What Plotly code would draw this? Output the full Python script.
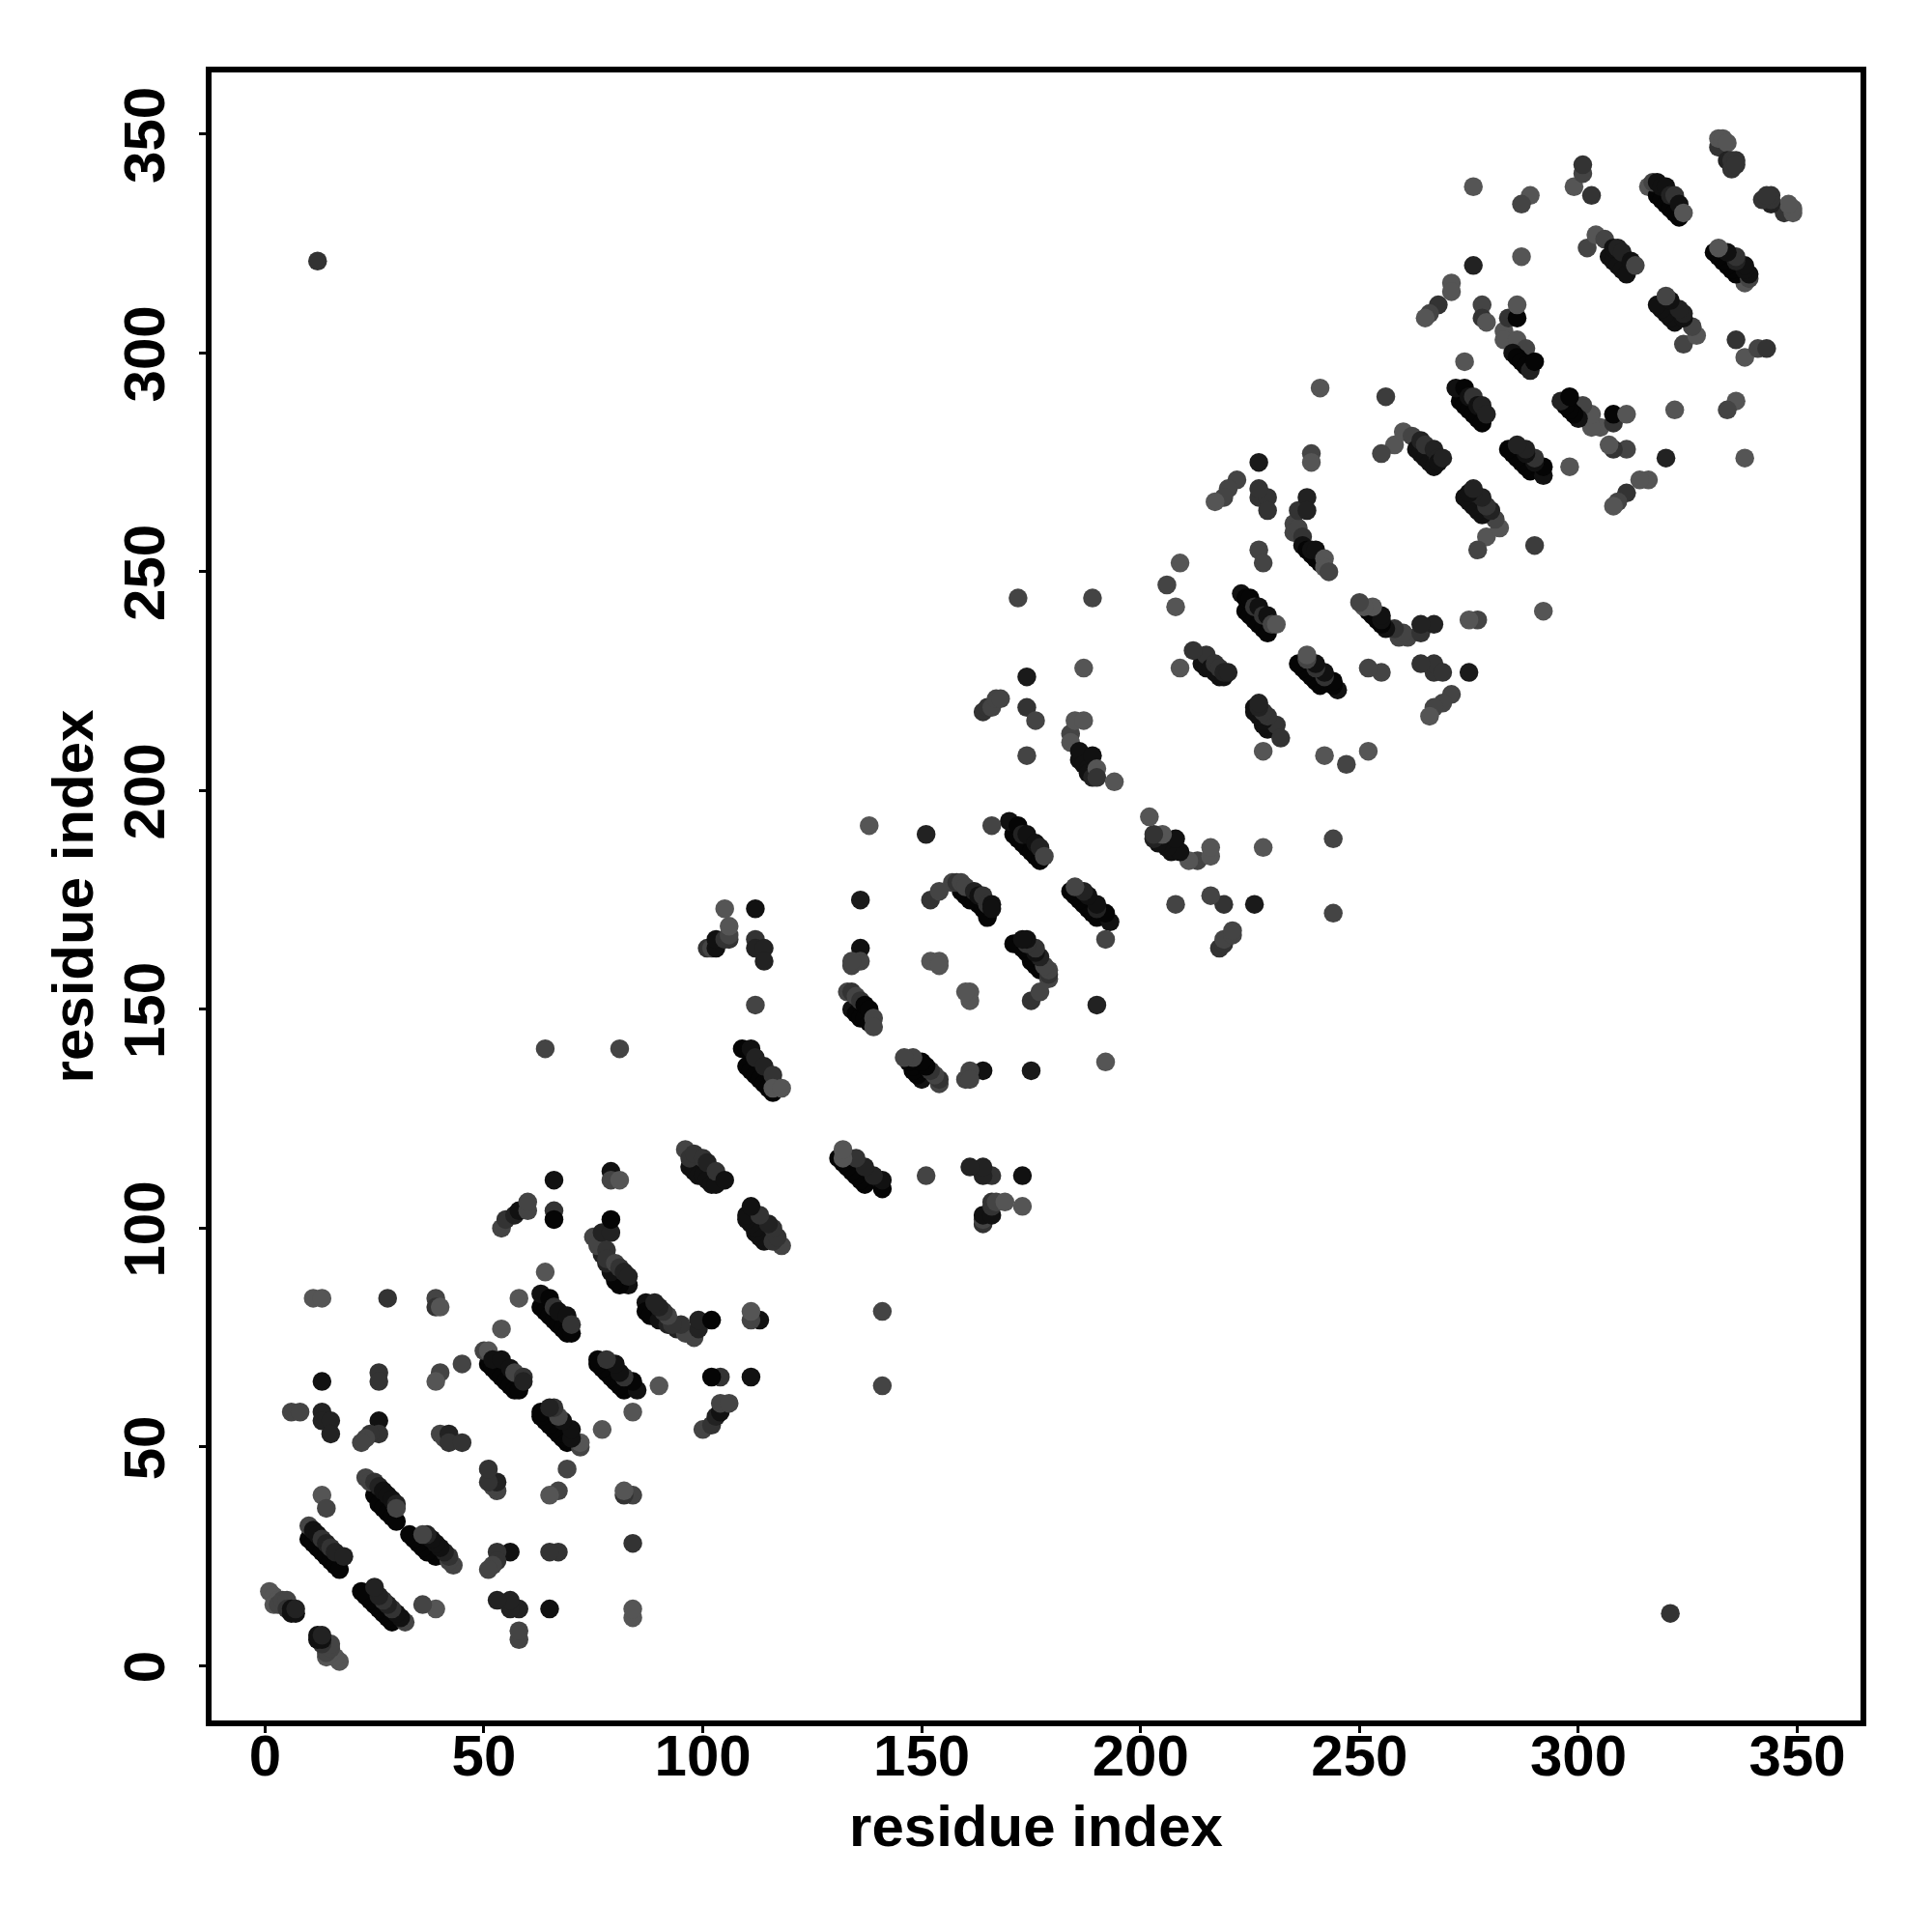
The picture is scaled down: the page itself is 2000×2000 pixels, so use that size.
import plotly.graph_objects as go

corner_a = [12]
corner_b = [321]
corner_g = [51]

stripe_a = [
 1,2,2,3,3,4,5,5,6,6,7,7,
 10,11,12,13,14,15,16,17, 10,11,12,13,14,15,16,18,
 25,26,27,28,29,30, 23,24,25,26,27,28,29,30,30,
 51,52,53,54,55,56,57,58, 50,51,52,54,56,57,59,59,
 63,64,65,66,67,68,69,70, 63,65,66,67,69,70,
 83,81,80,79,78,77, 75,76,77,79,79,78,78,80,81,82,83,
 97,98,99,100,101,102,103, 96,97,98,100,101,103,105,
 110,111,112,113,114,115,116, 109,111,112,114,116,116,118,
 134,135,136,137,138, 133,134,135,136,137,138,139,139,
 159,160,161,162,163,164,165, 157,158,159,160,162,163,164,165,166,166,
 171,172,173,174,175,176,177, 170,172,173,174,176,177,178,
 184,184,185,186,186,187,188,188,189,187,189,190,190,194,
 214,215,215,216,217,218,219, 212,217,218,219,220,
 224,225,226,227,228,229, 223,224,225,226,227,228,229,230,231,
 235,235,236,236,237,237,238,239,240,241,239,240,242,242,243,238,238,
 258,260,262,263,264,265,266,267,264,265,267,268,268,269,255,
 273,274,275,276,277,278, 272,274,275,276,277,278,279,
 283,283,284,286,288,285,286,287,288,289,290,286,286,
 302,304,306,307,308,309,310,311,308,309,310,312,313,
 316,318,319,320,321,322,323,317,318,319,320,321,322,323,324,
 332,332,333,334,334,335,336,335,336,
]
stripe_b = [
 17,16,14,15,14,15,15,13,13,12,12,13,
 29,28,27,26,25,24,23,22, 32,31,30,29,28,27,26,25,
 39,37,36,35,34,33, 43,42,42,41,40,39,38,37,36,
 69,68,67,66,65,64,63,63, 72,72,70,70,68,67,66,65,
 82,81,80,79,78,77,76,76, 85,84,82,81,80,78,
 87,87,88,90,92,94, 98,96,99,99,102,95,93,92,91,90,89,
 114,113,112,112,111,110,110, 118,116,117,116,115,113,111,
 137,136,135,134,133,132,131, 141,141,139,137,135,132,132,
 150,149,148,148,147, 154,154,153,152,151,150,148,146,
 177,176,175,175,174,173,171, 179,179,179,178,177,176,176,174,174,173,
 190,189,188,187,186,185,184, 193,192,190,190,188,187,185,
 213,211,216,207,209,206,205,204,203,216,208,205,203,202,
 229,228,231,228,227,226,226, 232,229,228,227,227,
 241,240,239,238,237,236, 245,244,244,242,242,240,240,238,238,
 261,259,260,264,258,256,255,254,253,252,255,255,253,251,250,267,264,
 279,282,281,278,277,276,275,274,280,279,278,276,275,276,277,
 289,288,287,286,285,284, 292,292,290,290,288,288,286,
 305,303,308,303,301,300,299,298,297,296,298,308,311,
 324,327,326,322,321,320,319,318,324,324,323,321,320,
 338,336,335,334,333,332,331,339,339,338,338,336,336,334,332,
 347,349,349,348,344,344,344,342,343,
]
stripe_g = [
 85,85,85,85,68,68,68,51,17,17,17,34,
 5,5,5,5,5,5,5,5, 68,17,17,51,34,51,34,34,
 5,5,5,5,5,5, 68,68,51,34,17,17,17,34,68,
 5,5,5,5,5,5,5,5, 68,85,17,17,17,68,51,34,
 5,5,5,5,5,5,5,5, 17,5,51,17,17,51,
 17,5,5,17,34,34, 68,68,34,34,5,51,51,68,51,34,34,
 17,17,17,17,17,17,17, 68,51,51,51,34,51,17,
 5,5,5,5,5,5,5, 5,17,34,34,51,85,85,
 17,5,5,5,5, 68,51,68,51,5,5,68,68,
 5,5,5,5,5,5,5, 68,51,68,68,34,17,51,51,17,17,
 5,5,5,5,5,5,5, 17,5,34,17,17,34,68,
 68,85,85,17,17,17,17,17,34,85,17,85,51,85,
 17,17,51,17,17,17,17, 51,51,51,34,34,
 5,5,5,5,5,5, 17,5,5,51,17,51,17,68,85,
 68,68,68,51,51,17,5,5,5,5,17,17,85,85,68,34,34,
 85,85,68,17,17,17,17,17,34,51,34,34,17,34,68,
 5,5,5,5,5,5, 17,5,17,51,17,34,34,
 85,85,51,85,68,17,5,5,5,34,5,5,85,
 68,85,68,17,17,17,17,17,17,34,34,17,68,
 85,5,5,5,5,5,5,68,17,17,17,34,51,17,85,
 51,85,85,85,34,51,51,51,51,
]

single_a = [11,13,28,39,39,40,58,54,64,45,40,39,26,26,13,6,8,13,13,15,15,26,26,24,23,22,40,41,42,42,45,13,14,
 54,55,57,58,60,60,66,66,66,79,79,81,64,81,
 101,102,103,103,105,106,106,106,105,112,112,112,114,114,112,
 136,136,134,136,134,151,138,152,154,152,154,154,
 166,164,165,166,167,168,174,174,176,174,172,189,187,208,209,209,206,
 227,222,220,219,217,227,229,229,227,239,239,241,256,227,228,
 274,276,287,289,299,301,301,303,287,268,266,265,271,271,276,278,278,279,
]
single_b = [84,84,84,84,82,82,84,77,90,69,67,65,67,65,65,58,58,58,56,56,53,56,53,53,52,51,53,52,53,51,51,39,36,
 100,102,103,104,104,106,111,104,102,113,111,111,141,141,
 164,164,164,166,166,166,167,169,173,173,166,164,164,161,151,
 175,164,160,161,161,190,192,175,177,161,161,160,
 192,218,219,219,221,221,226,219,216,208,244,244,228,242,228,252,247,
 275,271,269,267,266,267,267,264,269,277,275,292,290,255,252,
 298,320,322,336,338,341,343,336,334,311,309,308,316,314,338,311,308,307,
]
single_g = [85,85,51,68,51,85,85,85,85,68,68,85,51,51,17,68,68,34,34,34,34,17,51,51,68,68,68,68,34,51,51,85,68,
 68,51,34,17,68,68,17,51,5,17,68,85,68,68,
 51,68,17,17,51,51,68,85,85,17,51,34,34,34,68,
 26,17,68,68,68,34,85,51,68,85,85,85,
 68,51,51,68,68,68,26,51,68,68,68,68,85,85,85,85,68,
 26,68,68,68,85,51,51,51,51,68,85,85,60,68,68,
 85,34,85,85,85,68,51,51,68,51,68,85,85,85,85,68,51,85,
]
tick_values = [0, 50, 100, 150, 200, 250, 300, 350]
axis_label = "residue index"

a = corner_a + stripe_a + single_a
b = corner_b + stripe_b + single_b
g = corner_g + stripe_g + single_g
assert len(stripe_a) == len(stripe_b) == len(stripe_g), (len(stripe_a), len(stripe_b), len(stripe_g))
assert len(single_a) == len(single_b) == len(single_g), (len(single_a), len(single_b), len(single_g))

colors = [f"rgb({v},{v},{v})" for v in g]
font = dict(family="Liberation Sans", size=60, color="black", weight="bold")

fig = go.Figure(go.Scatter(
    x=a + b, y=b + a, mode="markers",
    marker=dict(size=19.5, color=colors + colors, line=dict(width=0), opacity=1),
    showlegend=False,
))
axis = dict(
    tickvals=tick_values, ticktext=[str(v) for v in tick_values],
    showgrid=False, zeroline=False, showline=True, mirror=True,
    linecolor="black", linewidth=6, ticks="outside", ticklen=7, tickwidth=3,
    tickcolor="black", tickfont=font,
)
fig.update_layout(
    width=2000, height=2000, paper_bgcolor="white", plot_bgcolor="white",
    margin=dict(l=211, r=82, t=67, b=227, autoexpand=False),
    xaxis=dict(range=[-12.22, 364.44], ticklabelstandoff=-28,
               title=dict(text=axis_label, font=font, standoff=21), **axis),
    yaxis=dict(range=[-12.47, 364.1], tickangle=-90, ticklabelstandoff=12, ticklabelshift=10,
               title=dict(text=axis_label, font=font, standoff=2), **axis),
)
fig.write_html("out.html")
